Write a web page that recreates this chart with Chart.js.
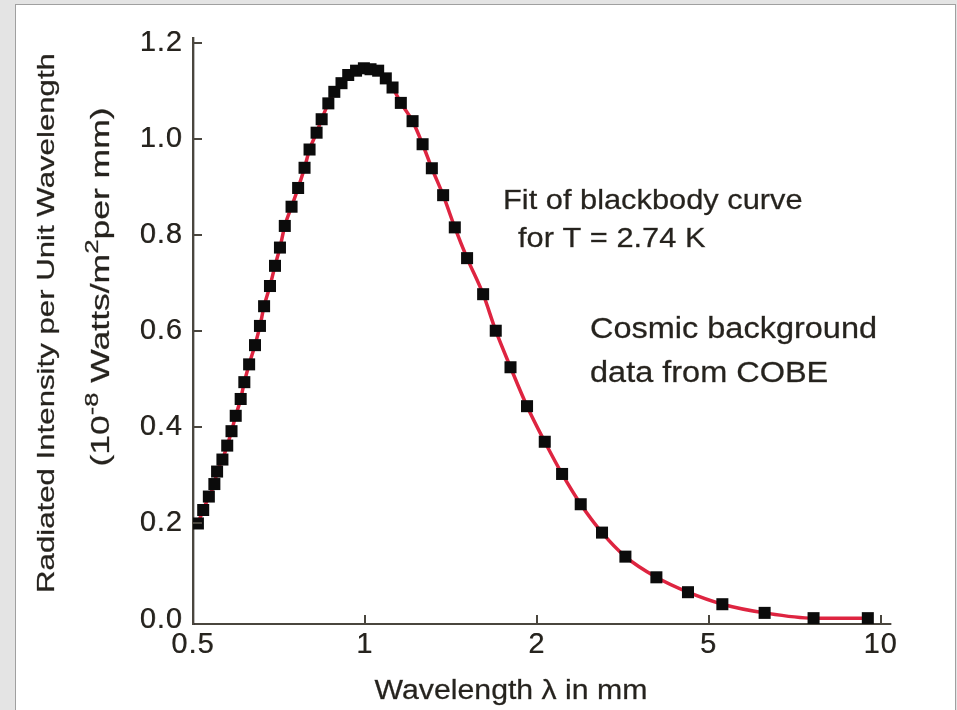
<!DOCTYPE html>
<html>
<head>
<meta charset="utf-8">
<script src="https://cdn.jsdelivr.net/npm/chart.js@4.4.0/dist/chart.umd.min.js"></script>
<style>
  html, body { margin: 0; padding: 0; width: 957px; height: 710px; overflow: hidden; background: #e4e4e4; }
  #frame { position: absolute; left: 15px; top: 4px; width: 939px; height: 760px; background: #fff; border: 1px solid #a0a0a0; }
  #cobe { position: absolute; left: 0; top: 0; }
</style>
</head>
<body>
<div id="frame"></div>
<canvas id="cobe" width="957" height="710"></canvas>
<script>
// axis ticks
const xTickValues = [0.5, 1, 2, 5, 10];
const yTickValues = [0, 0.2, 0.4, 0.6, 0.8, 1.0, 1.2];

// COBE points (wavelength in mm, intensity in 1e-8 W/m^2 per mm)
const wavelengthMm = [0.510, 0.521, 0.533, 0.545, 0.551, 0.563, 0.574, 0.584, 0.594, 0.606,
  0.615, 0.627, 0.642, 0.655, 0.666, 0.682, 0.696, 0.710, 0.724, 0.744,
  0.764, 0.784, 0.800, 0.823, 0.840, 0.863, 0.884, 0.910, 0.935, 0.965,
  0.996, 1.023, 1.055, 1.088, 1.118, 1.156, 1.212, 1.262, 1.310, 1.371,
  1.437, 1.510, 1.611, 1.695, 1.799, 1.923, 2.087, 2.289, 2.528, 2.832,
  3.208, 3.784, 4.478, 5.284, 6.266, 7.633, 9.500];
const intensity = [0.200, 0.228, 0.256, 0.282, 0.308, 0.333, 0.362, 0.392, 0.424, 0.459,
  0.494, 0.531, 0.571, 0.611, 0.652, 0.694, 0.736, 0.774, 0.819, 0.859,
  0.898, 0.940, 0.978, 1.013, 1.041, 1.074, 1.098, 1.116, 1.133, 1.142,
  1.147, 1.145, 1.142, 1.126, 1.107, 1.075, 1.037, 0.989, 0.939, 0.883,
  0.816, 0.752, 0.677, 0.601, 0.525, 0.444, 0.370, 0.303, 0.240, 0.181,
  0.131, 0.088, 0.057, 0.032, 0.014, 0.003, 0.003];

const axisColor = '#4a463e';
const textColor = '#26231e';
const fontName = '"Liberation Sans", Arial, sans-serif';

// the wavelength axis has its ticks evenly spaced, log inside each step
function axisPos(lam) {
  for (let i = 0; i < xTickValues.length - 1; i++) {
    const a = xTickValues[i], b = xTickValues[i + 1];
    if (lam <= b || i === xTickValues.length - 2) {
      return i + Math.log(lam / a) / Math.log(b / a);
    }
  }
}

const points = wavelengthMm.map((w, i) => ({ x: axisPos(w), y: intensity[i] }));

function ink(ctx, text, x, y) {
  ctx.fillText(text, x, y);
  ctx.strokeText(text, x, y);
}

function stretched(ctx, text, x, y, size, sx, align) {
  ctx.save();
  ctx.font = size + 'px ' + fontName;
  ctx.translate(x, y);
  ctx.scale(sx, 1);
  ctx.textAlign = align;
  ink(ctx, text, 0, 0);
  ctx.restore();
}

const decor = {
  id: 'decor',
  beforeDraw(chart) {
    // a touch heavier tick labels, like the scanned original
    const ctx = chart.ctx;
    ctx.letterSpacing = '1px';
    ctx.shadowColor = 'rgba(38,35,30,0.6)';
    ctx.shadowBlur = 0;
    ctx.shadowOffsetX = 0.5;
  },
  beforeDatasetsDraw(chart) {
    const ctx = chart.ctx;
    ctx.shadowColor = 'rgba(0,0,0,0)';
    ctx.shadowOffsetX = 0;
  },
  afterDraw(chart) {
    const ctx = chart.ctx;
    const xs = chart.scales.x, ys = chart.scales.y;
    ctx.save();
    ctx.letterSpacing = '0px';

    // inward tick marks
    ctx.strokeStyle = axisColor;
    ctx.lineWidth = 2;
    ctx.beginPath();
    ys.ticks.forEach(t => {
      if (t.value === 0) return;
      const py = Math.round(ys.getPixelForValue(t.value));
      ctx.moveTo(xs.left, py);
      ctx.lineTo(xs.left + 9, py);
    });
    xs.ticks.forEach((t, i) => {
      if (i === 0) return;
      const px = Math.round(xs.getPixelForValue(t.value));
      ctx.moveTo(px, ys.bottom);
      ctx.lineTo(px, ys.bottom - 9);
    });
    ctx.stroke();

    ctx.fillStyle = textColor;
    ctx.strokeStyle = 'rgba(38,35,30,0.7)';
    ctx.lineWidth = 0.35;
    ctx.textBaseline = 'alphabetic';

    // notes
    stretched(ctx, 'Fit of blackbody curve', 503, 209, 27.5, 1.12, 'left');
    stretched(ctx, 'for T = 2.74 K', 518, 247, 27.5, 1.12, 'left');
    stretched(ctx, 'Cosmic background', 590, 338, 29, 1.12, 'left');
    stretched(ctx, 'data from COBE', 590, 382, 29, 1.12, 'left');

    // x title
    stretched(ctx, 'Wavelength \u03bb in mm', 511, 699, 27, 1.12, 'center');

    // y title, two lines reading upward
    ctx.save();
    ctx.translate(0, 323);
    ctx.rotate(-Math.PI / 2);
    ctx.save();
    ctx.scale(1.3, 1);
    ctx.font = '24px ' + fontName;
    ctx.textAlign = 'center';
    ink(ctx, 'Radiated Intensity per Unit Wavelength', 0, 54);
    ctx.restore();

    ctx.translate(36, 0);
    ctx.scale(1.42, 1);
    const parts = [
      { t: '(10', sup: false },
      { t: '-8', sup: true },
      { t: ' Watts/m', sup: false },
      { t: '2', sup: true },
      { t: 'per mm)', sup: false }
    ];
    const big = '25px ' + fontName, small = '18px ' + fontName;
    let total = 0;
    parts.forEach(p => { ctx.font = p.sup ? small : big; p.w = ctx.measureText(p.t).width; total += p.w; });
    let cx = -total / 2;
    ctx.textAlign = 'left';
    parts.forEach(p => {
      ctx.font = p.sup ? small : big;
      ink(ctx, p.t, cx, p.sup ? 98 : 109);
      cx += p.w;
    });
    ctx.restore();

    ctx.restore();
  }
};

new Chart(document.getElementById('cobe'), {
  type: 'line',
  data: {
    datasets: [{
      label: 'COBE',
      data: points,
      borderColor: '#de2440',
      borderWidth: 3.5,
      cubicInterpolationMode: 'monotone',
      pointStyle: 'rect',
      pointRadius: 8.5,
      pointBackgroundColor: '#0b0b0b',
      pointBorderColor: '#0b0b0b',
      pointBorderWidth: 0
    }]
  },
  options: {
    responsive: false,
    animation: false,
    events: [],
    layout: { padding: { left: 0, top: 38, right: 67, bottom: 0 } },
    plugins: { legend: { display: false }, tooltip: { enabled: false } },
    scales: {
      x: {
        type: 'linear',
        min: 0,
        max: 4.055,
        afterBuildTicks: s => { s.ticks = xTickValues.map((v, i) => ({ value: i })); },
        afterFit: s => { s.height = 86; },
        ticks: {
          callback: (v, i) => String(xTickValues[i]),
          font: { family: fontName, size: 29 },
          color: textColor,
          padding: 4,
          maxRotation: 0,
          autoSkip: false
        },
        grid: { drawOnChartArea: false, drawTicks: false },
        border: { color: axisColor, width: 2 }
      },
      y: {
        min: -0.00915,
        max: 1.21,
        afterBuildTicks: s => { s.ticks = yTickValues.map(v => ({ value: v })); },
        afterFit: s => { s.width = 193; },
        ticks: {
          callback: v => v.toFixed(1),
          font: { family: fontName, size: 29 },
          color: textColor,
          padding: 10
        },
        grid: { drawOnChartArea: false, drawTicks: false },
        border: { color: axisColor, width: 2 }
      }
    }
  },
  plugins: [decor]
});
</script>
</body>
</html>
